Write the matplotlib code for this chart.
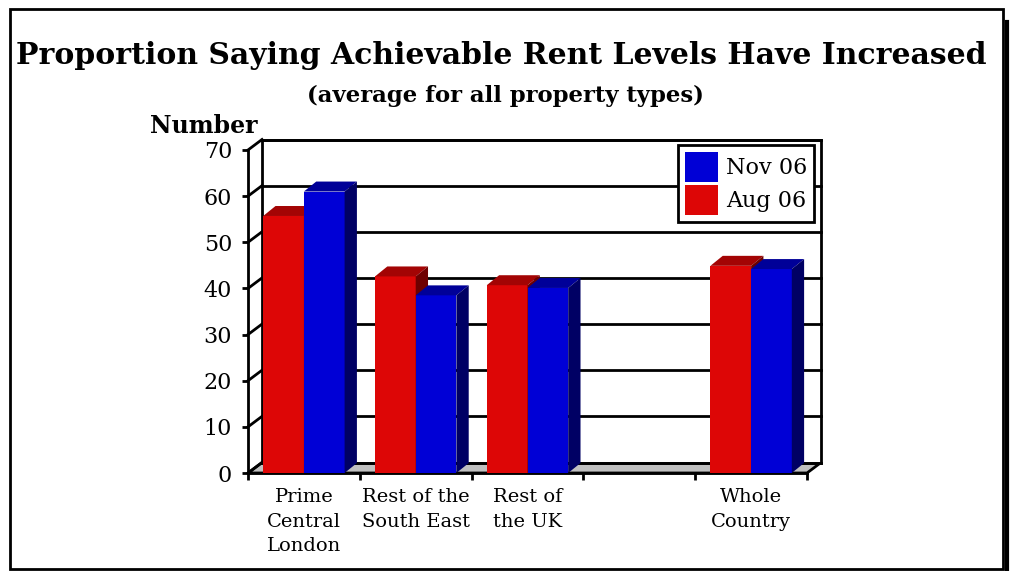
import matplotlib
matplotlib.use("Agg")
import matplotlib.pyplot as plt
from matplotlib.patches import Polygon, Rectangle, Patch
from matplotlib.lines import Line2D

# survey results, % of respondents
categories = ["Prime\nCentral\nLondon", "Rest of the\nSouth East", "Rest of\nthe UK", "", "Whole\nCountry"]
aug_06 = [55.7, 42.6, 40.7, None, 44.9]
nov_06 = [61.0, 38.5, 40.1, None, 44.2]
series_names = ["Aug 06", "Nov 06"]
y_ticks = [0, 10, 20, 30, 40, 50, 60, 70]

RED = ("#dd0606", "#a30404", "#6e0000")    # front, top, side
BLUE = ("#0000d6", "#000098", "#000064")
FLOOR = "#c0c0c0"
SERIF = "DejaVu Serif"
LW = 2.0

W, H = 1012, 571
fig = plt.figure(figsize=(W / 100, H / 100), dpi=100)

# axes = front plane of the 3d box
x0, x1, y0, y1 = 248, 807, 473, 150
ax = fig.add_axes([x0 / W, 1 - y0 / H, (x1 - x0) / W, (y0 - y1) / H])
n = len(categories)
ax.set_xlim(0, n)
ax.set_ylim(0, 70)

# depth of the box in data units (14 px right, 10.5 px up)
dx = 14 / ((x1 - x0) / n)
dy = 10.5 / ((y0 - y1) / 70)
ymax = y_ticks[-1]

# floor
ax.add_patch(Polygon([(0, 0), (n, 0), (n + dx, dy), (dx, dy)], closed=True,
                     facecolor=FLOOR, edgecolor="black", lw=LW, zorder=1, clip_on=False))
# back wall with grid
ax.add_patch(Rectangle((dx, dy), n, ymax, facecolor="white", edgecolor="black",
                       lw=LW, zorder=1.2, clip_on=False))
for v in y_ticks:
    ax.add_line(Line2D([dx, n + dx], [v + dy, v + dy], color="black", lw=LW,
                       zorder=1.3, clip_on=False))
    ax.add_line(Line2D([0, dx], [v, v + dy], color="black", lw=LW,
                       zorder=1.3, clip_on=False))

# bars with top and side faces
bw = 0.364
bdx, bdy = dx * 0.88, dy * 0.95
z = 3
for i in range(n):
    for vals, cols, off in ((aug_06, RED, -bw), (nov_06, BLUE, 0.0)):
        v = vals[i]
        if v is None:
            continue
        left = i + 0.5 + off
        ax.bar(left, v, width=bw, align="edge", color=cols[0], lw=0, zorder=z)
        ax.add_patch(Polygon([(left, v), (left + bw, v), (left + bw + bdx, v + bdy),
                              (left + bdx, v + bdy)], closed=True, facecolor=cols[1],
                             lw=0, zorder=z, clip_on=False))
        ax.add_patch(Polygon([(left + bw, 0), (left + bw + bdx, bdy), (left + bw + bdx, v + bdy),
                              (left + bw, v)], closed=True, facecolor=cols[2],
                             lw=0, zorder=z, clip_on=False))
        z += 0.1

# axes and ticks
for s in ("top", "right"):
    ax.spines[s].set_visible(False)
for s in ("left", "bottom"):
    ax.spines[s].set_linewidth(LW)
    ax.spines[s].set_zorder(2)
ax.set_yticks(y_ticks)
ax.set_yticklabels([str(t) for t in y_ticks], fontsize=16, family=SERIF)
ax.tick_params(axis="y", direction="out", length=4.5, width=LW, pad=7)
ax.set_xticks(range(n + 1))
ax.set_xticklabels([])
ax.set_xticks([i + 0.5 for i in range(n)], minor=True)
ax.set_xticklabels(categories, minor=True, fontsize=14, family=SERIF, linespacing=1.45)
ax.tick_params(axis="x", which="major", direction="out", length=5, width=LW)
ax.tick_params(axis="x", which="minor", length=0, pad=11)
ax.patch.set_visible(False)

# legend
handles = [Patch(facecolor=BLUE[0], edgecolor="none"), Patch(facecolor=RED[0], edgecolor="none")]
leg = ax.legend(handles, [series_names[1], series_names[0]], loc="upper right",
                bbox_to_anchor=(5.063, 71.1), bbox_transform=ax.transData,
                prop={"family": SERIF, "size": 16}, fancybox=False, framealpha=1,
                edgecolor="black", handlelength=1.5, handleheight=1.75,
                handletextpad=0.35, labelspacing=0.1, borderpad=0.3, borderaxespad=0)
leg.get_frame().set_linewidth(LW)
leg.set_zorder(10)

# titles
fig.text(501 / W, 1 - 55 / H, "Proportion Saying Achievable Rent Levels Have Increased",
         ha="center", va="center", fontsize=21.5, fontweight="bold", family=SERIF)
fig.text(505 / W, 1 - 96 / H, "(average for all property types)",
         ha="center", va="center", fontsize=16.4, fontweight="bold", family=SERIF)
fig.text(204 / W, 1 - 126 / H, "Number",
         ha="center", va="center", fontsize=17, fontweight="bold", family=SERIF)

# outer frame
fig.patches.append(Rectangle((10 / W, 1 - 569 / H), 993 / W, 560 / H, transform=fig.transFigure,
                             fill=False, edgecolor="black", lw=2))
fig.lines.append(Line2D([1007 / W, 1007 / W], [1 - 569 / H, 1 - 22 / H],
                        transform=fig.transFigure, color="black", lw=3))

fig.savefig("out.png", dpi=100, facecolor="white")
